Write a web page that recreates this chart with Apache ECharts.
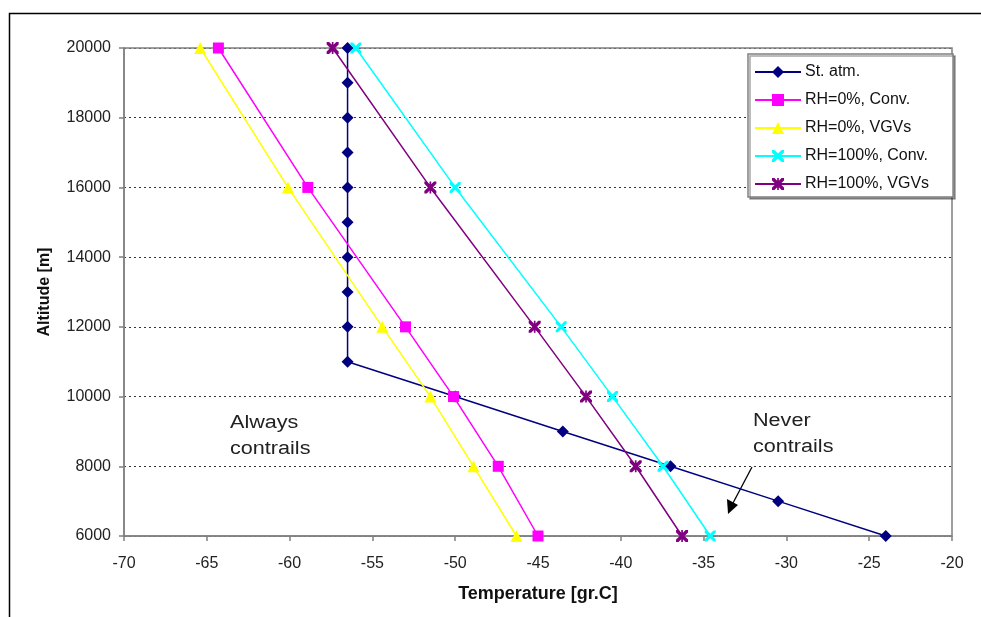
<!DOCTYPE html>
<html>
<head>
<meta charset="utf-8">
<script src="https://cdn.jsdelivr.net/npm/echarts@6/dist/echarts.min.js"></script>
<style>
  html, body { margin: 0; padding: 0; background: #fff; }
  #chart { width: 981px; height: 617px; }
</style>
</head>
<body>
<div id="chart"></div>
<script>
const altStd = [20000, 19000, 18000, 17000, 16000, 15000, 14000, 13000, 12000, 11000, 10000, 9000, 8000, 7000, 6000]
const tStd = [-56.5, -56.5, -56.5, -56.5, -56.5, -56.5, -56.5, -56.5, -56.5, -56.5, -50, -43.5, -37, -30.5, -24]

const altRH = [20000, 16000, 12000, 10000, 8000, 6000]
const tRH0Conv = [-64.3, -58.9, -53.0, -50.1, -47.4, -45.0]
const tRH0VGV = [-65.4, -60.1, -54.4, -51.5, -48.9, -46.3]
const tRH100Conv = [-56.0, -50.0, -43.6, -40.5, -37.45, -34.6]
const tRH100VGV = [-57.4, -51.5, -45.2, -42.1, -39.1, -36.3]

const seriesNames = ['St. atm.', 'RH=0%, Conv.', 'RH=0%, VGVs', 'RH=100%, Conv.', 'RH=100%, VGVs']

const FONT = 'Liberation Sans, Arial, sans-serif'
const xPath = 'path://M0,0 L2,0 L5,3 L8,0 L10,0 L10,2 L7,5 L10,8 L10,10 L8,10 L5,7 L2,10 L0,10 L0,8 L3,5 L0,2 Z'
const starPath = 'path://M0,0 L2,0 L5,3 L8,0 L10,0 L10,2 L7,5 L10,8 L10,10 L8,10 L5,7 L2,10 L0,10 L0,8 L3,5 L0,2 Z M4.3,0 L5.7,0 L5.7,10 L4.3,10 Z'

function pairs(ts, alts) { return ts.map((t, i) => [t, alts[i]]) }

function mk(name, ts, alts, color, symbol, size) {
  return {
    name, type: 'line', data: pairs(ts, alts),
    symbol, symbolSize: size, showAllSymbol: true,
    lineStyle: { color, width: 1.5 },
    itemStyle: { color, borderWidth: 0 },
    emphasis: { disabled: true },
    z: 3,
  }
}

const chart = echarts.init(document.getElementById('chart'), null, { renderer: 'canvas' })

chart.setOption({
  backgroundColor: '#fff',
  animation: false,
  textStyle: { fontFamily: FONT },
  grid: { left: 124, right: 29, top: 48, bottom: 81 },
  xAxis: {
    type: 'value', min: -70, max: -20, interval: 5,
    name: 'Temperature [gr.C]', nameLocation: 'middle', nameGap: 49,
    nameTextStyle: { fontSize: 18, fontWeight: 'bold', color: '#111', fontFamily: FONT },
    axisLine: { show: true, onZero: false, lineStyle: { color: '#808080', width: 1.5 } },
    axisTick: { show: true, length: 5, lineStyle: { color: '#808080', width: 1.5 } },
    axisLabel: { color: '#222', fontSize: 16, margin: 20, fontFamily: FONT },
    splitLine: { show: false },
  },
  yAxis: {
    type: 'value', min: 6000, max: 20000, interval: 2000,
    name: 'Altitude [m]', nameLocation: 'middle', nameGap: 71, nameRotate: 90,
    nameTextStyle: { fontSize: 16, fontWeight: 'bold', color: '#111', fontFamily: FONT },
    axisLine: { show: true, onZero: false, lineStyle: { color: '#808080', width: 1.5 } },
    axisTick: { show: true, length: 5, lineStyle: { color: '#808080', width: 1.5 } },
    axisLabel: { color: '#222', fontSize: 16, margin: 13, fontFamily: FONT, formatter: v => String(v) },
    splitLine: { show: true, lineStyle: { color: '#333', width: 1, type: [2, 3] } },
  },
  legend: {
    data: seriesNames,
    orient: 'vertical', left: 748, top: 54,
    padding: [10, 24, 5, 6], itemGap: 12,
    itemWidth: 46, itemHeight: 15,
    backgroundColor: '#fff', borderColor: '#808080', borderWidth: 1.5,
    shadowColor: 'rgba(0,0,0,0.35)', shadowOffsetX: 2, shadowOffsetY: 2,
    textStyle: { fontSize: 16, color: '#111', fontFamily: FONT, padding: [0, 0, 0, -1] },
  },
  graphic: [
    { type: 'rect', shape: { x: 9.5, y: 13.5, width: 1100, height: 700 }, style: { fill: 'none', stroke: '#000', lineWidth: 1.5 }, silent: true },
    { type: 'rect', shape: { x: 124, y: 48, width: 828, height: 488 }, style: { fill: 'none', stroke: '#808080', lineWidth: 1.5 }, z: 1, silent: true },
    { type: 'text', x: 230, y: 410, scaleX: 1.2, style: { text: 'Always\ncontrails', font: '18px ' + FONT, fill: '#222', lineHeight: 26 } },
    { type: 'text', x: 753, y: 408, scaleX: 1.2, style: { text: 'Never\ncontrails', font: '18px ' + FONT, fill: '#222', lineHeight: 26 } },
    { type: 'line', shape: { x1: 752, y1: 467, x2: 733, y2: 503 }, style: { stroke: '#000', lineWidth: 1.3 } },
    { type: 'polygon', shape: { points: [[728, 514], [727, 499], [738, 505]] }, style: { fill: '#000' } },
  ],
  series: [
    mk(seriesNames[0], tStd, altStd, '#000080', 'diamond', 12),
    mk(seriesNames[1], tRH0Conv, altRH, '#ff00ff', 'rect', 11),
    mk(seriesNames[2], tRH0VGV, altRH, '#ffff00', 'triangle', 12),
    mk(seriesNames[3], tRH100Conv, altRH, '#00ffff', xPath, 11),
    mk(seriesNames[4], tRH100VGV, altRH, '#800080', starPath, 12),
  ],
})
</script>
</body>
</html>
